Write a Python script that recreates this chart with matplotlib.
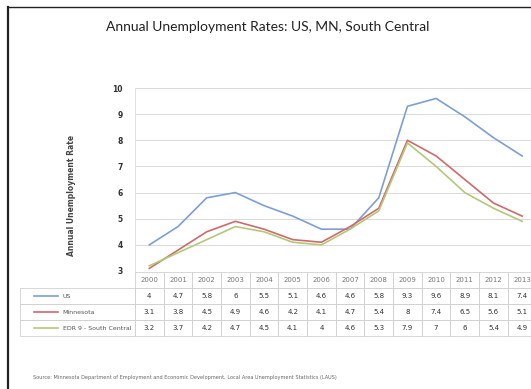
import matplotlib
matplotlib.use("Agg")
import matplotlib.pyplot as plt
from matplotlib.lines import Line2D

years = ["2000", "2001", "2002", "2003", "2004", "2005", "2006",
         "2007", "2008", "2009", "2010", "2011", "2012", "2013"]
us = [4, 4.7, 5.8, 6, 5.5, 5.1, 4.6, 4.6, 5.8, 9.3, 9.6, 8.9, 8.1, 7.4]
mn = [3.1, 3.8, 4.5, 4.9, 4.6, 4.2, 4.1, 4.7, 5.4, 8, 7.4, 6.5, 5.6, 5.1]
edr9 = [3.2, 3.7, 4.2, 4.7, 4.5, 4.1, 4, 4.6, 5.3, 7.9, 7, 6, 5.4, 4.9]
series_names = ["US", "Minnesota", "EDR 9 - South Central"]
series_colors = ["#7b9fd6", "#cf6a6a", "#b3c77a"]
yticks = [3, 4, 5, 6, 7, 8, 9, 10]

title = "Annual Unemployment Rates: US, MN, South Central"
ylabel = "Annual Unemployment Rate"
source = ("Source: Minnesota Department of Employment and Economic Development, "
          "Local Area Unemployment Statistics (LAUS)")

W, H = 531, 389
fig = plt.figure(figsize=(W / 100, H / 100), dpi=100)
fig.patch.set_facecolor("white")

def fx(px):
    return px / W

def fy(py):
    return 1 - py / H

# axes geometry (pixels)
ax_left, ax_right = 135, 536.5
ax_top, ax_bottom = 88, 271
ax = fig.add_axes([fx(ax_left), fy(ax_bottom), fx(ax_right - ax_left),
                   (ax_bottom - ax_top) / H])
ax.set_facecolor("white")

x = list(range(len(years)))
for vals, c in zip([us, mn, edr9], series_colors):
    ax.plot(x, vals, color=c, lw=1.2, solid_joinstyle="round", zorder=3)

ax.set_xlim(-0.5, len(years) - 0.5)
ax.set_ylim(3, 10)
ax.set_yticks(yticks)
ax.set_yticklabels([str(t) for t in yticks], fontsize=5.5, color="#333333",
                   fontweight="bold")
ax.tick_params(axis="y", length=0, pad=9)
ax.set_xticks([])
ax.grid(axis="y", color="#d4d4d4", lw=0.6)
for s in ["top", "right", "bottom"]:
    ax.spines[s].set_visible(False)
ax.spines["left"].set_color("#dddddd")
ax.spines["left"].set_linewidth(0.6)

# data table: first column holds the series names
def fmt(v):
    return f"{v:g}"

cell_text = [[name] + [fmt(v) for v in row]
             for name, row in zip(series_names, [us, mn, edr9])]
tab_left = 20
tab_top, tab_bottom = 272, 336
ax_h = ax_bottom - ax_top
ax_w = ax_right - ax_left
label_w = ax_left - tab_left
bbox = [(tab_left - ax_left) / ax_w, -(tab_bottom - ax_bottom) / ax_h,
        (ax_right - tab_left) / ax_w, (tab_bottom - tab_top) / ax_h]
col_w = ax_w / len(years)
tbl = ax.table(cellText=cell_text, colLabels=[""] + years,
               cellLoc="center", bbox=bbox,
               colWidths=[label_w] + [col_w] * len(years))
tbl.auto_set_font_size(False)
tbl.set_fontsize(5)
for (r, c), cell in tbl.get_celld().items():
    cell.set_edgecolor("#c8c8c8")
    cell.set_linewidth(0.5)
    cell.get_text().set_color("#333333" if r > 0 else "#777777")
    if c == 0:
        if r == 0:
            cell.set_visible(False)
        cell.PAD = 0.37
        cell.get_text().set_ha("left")
        cell._loc = "left"
        cell.get_text().set_color("#555555")
        cell.get_text().set_fontsize(4.5)

# legend keys in the label column
row_centers = [296, 312, 328]
for yc, col in zip(row_centers, series_colors):
    fig.add_artist(Line2D([fx(34), fx(58)], [fy(yc), fy(yc)], color=col, lw=1.2,
                          transform=fig.transFigure))

# title and labels
fig.text(fx(268), fy(27), title, ha="center", va="center", fontsize=10,
         family="Lato", color="#222222")
fig.text(fx(72), fy(195), ylabel, rotation=90, ha="center", va="center",
         fontsize=5.5, fontweight="bold", color="#444444")
fig.text(fx(33), fy(378), source, ha="left", va="center", fontsize=3.6,
         color="#666666")

# outer frame of the scanned page
fig.add_artist(Line2D([fx(8), fx(531)], [fy(7), fy(7)], color="#222222", lw=1.0,
                      transform=fig.transFigure))
fig.add_artist(Line2D([fx(8), fx(8)], [fy(7), fy(389)], color="#222222", lw=1.6,
                      transform=fig.transFigure))

fig.savefig("out.png", dpi=100, facecolor="white")
